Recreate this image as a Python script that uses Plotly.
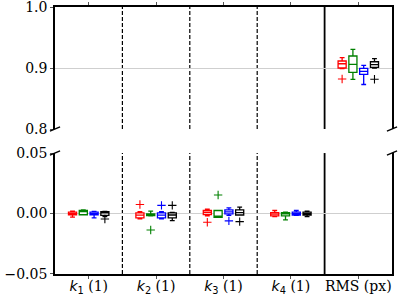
import plotly.graph_objects as go

# ---------------- data ----------------
categories = [1, 2, 3, 4, 5]
tick_labels = [
    "<span style='font-family:DejaVu Sans'><i>k</i><sub>1</sub></span> (1)",
    "<span style='font-family:DejaVu Sans'><i>k</i><sub>2</sub></span> (1)",
    "<span style='font-family:DejaVu Sans'><i>k</i><sub>3</sub></span> (1)",
    "<span style='font-family:DejaVu Sans'><i>k</i><sub>4</sub></span> (1)",
    "RMS (px)",
]
series_names = ["red", "green", "blue", "black"]
series_colors = ["#ff0000", "#008000", "#0000ff", "#000000"]
series_offsets = [-0.24, -0.08, 0.08, 0.24]

# bottom panel (k1..k4): per series lists of stats
k_lowerfence = {
    "red":   [-0.0030, -0.0045, -0.0020, -0.0025],
    "green": [-0.0010, -0.0020, -0.0031, -0.0053],
    "blue":  [-0.0036, -0.0045, -0.0015, -0.0015],
    "black": [-0.0025, -0.0058, -0.0012, -0.0025],
}
k_q1 = {
    "red":   [-0.0011, -0.0036, -0.0008, -0.0019],
    "green": [-0.0010, -0.0017, -0.0031, -0.0019],
    "blue":  [-0.0011, -0.0036, -0.0003, -0.0012],
    "black": [-0.0015, -0.0036, -0.0012, -0.0012],
}
k_median = {
    "red":   [0.0000, -0.0014, 0.0010, -0.0005],
    "green": [0.0022, -0.0010, -0.0028, -0.0003],
    "blue":  [0.0000, -0.0014, 0.0014, 0.0000],
    "black": [0.0005, -0.0012, 0.0008, 0.0000],
}
k_q3 = {
    "red":   [0.0011, 0.0006, 0.0025, 0.0008],
    "green": [0.0025, -0.0003, 0.0025, 0.0008],
    "blue":  [0.0011, 0.0006, 0.0031, 0.0012],
    "black": [0.0015, 0.0005, 0.0031, 0.0012],
}
k_upperfence = {
    "red":   [0.0020, 0.0015, 0.0036, 0.0025],
    "green": [0.0030, 0.0020, 0.0025, 0.0012],
    "blue":  [0.0018, 0.0015, 0.0047, 0.0025],
    "black": [0.0018, 0.0010, 0.0053, 0.0019],
}
# outliers in bottom panel: (category index, value)
k_outliers = {
    "red":   [(2, 0.0075), (3, -0.0072)],
    "green": [(2, -0.0136), (3, 0.0153)],
    "blue":  [(2, 0.0067), (3, -0.0061)],
    "black": [(1, -0.0045), (2, 0.0067), (3, -0.0067)],
}

# top panel (RMS)
rms_lowerfence = {"red": 0.8990, "green": 0.8815, "blue": 0.8730, "black": 0.9000}
rms_q1 = {"red": 0.9000, "green": 0.8930, "blue": 0.8897, "black": 0.9011}
rms_median = {"red": 0.9070, "green": 0.9060, "blue": 0.8946, "black": 0.9054}
rms_q3 = {"red": 0.9115, "green": 0.9197, "blue": 0.8995, "black": 0.9103}
rms_upperfence = {"red": 0.9169, "green": 0.9307, "blue": 0.9044, "black": 0.9153}
rms_outliers = {"red": [0.882], "green": [], "blue": [], "black": [0.8815]}

top_ticks = [0.8, 0.9, 1.0]
top_ticktext = ["0.8", "0.9", "1.0"]
bot_ticks = [-0.05, 0.0, 0.05]
bot_ticktext = ["\u22120.05", "0.00", "0.05"]

# ---------------- figure ----------------
fig = go.Figure()
BOXW = 0.12
for name, col, off in zip(series_names, series_colors, series_offsets):
    # bottom panel boxes
    fig.add_trace(go.Box(
        x=[c + off for c in categories[:4]],
        q1=k_q1[name], median=k_median[name], q3=k_q3[name],
        lowerfence=k_lowerfence[name], upperfence=k_upperfence[name],
        orientation="v", width=BOXW, boxpoints=False, whiskerwidth=0.6,
        line=dict(color=col, width=1.3), fillcolor="white",
        xaxis="x", yaxis="y", showlegend=False, hoverinfo="skip",
    ))
    ox = [categories[i - 1] + off for i, v in k_outliers[name]]
    oy = [v for i, v in k_outliers[name]]
    fig.add_trace(go.Scatter(
        x=ox, y=oy, mode="markers",
        marker=dict(symbol="cross-thin", size=6, line=dict(color=col, width=1.1), color=col),
        xaxis="x", yaxis="y", showlegend=False, hoverinfo="skip",
    ))
    # top panel boxes
    fig.add_trace(go.Box(
        x=[categories[4] + off],
        q1=[rms_q1[name]], median=[rms_median[name]], q3=[rms_q3[name]],
        lowerfence=[rms_lowerfence[name]], upperfence=[rms_upperfence[name]],
        orientation="v", width=BOXW, boxpoints=False, whiskerwidth=0.6,
        line=dict(color=col, width=1.3), fillcolor="white",
        xaxis="x2", yaxis="y2", showlegend=False, hoverinfo="skip",
    ))
    fig.add_trace(go.Scatter(
        x=[categories[4] + off] * len(rms_outliers[name]), y=rms_outliers[name],
        mode="markers",
        marker=dict(symbol="cross-thin", size=6, line=dict(color=col, width=1.1), color=col),
        xaxis="x2", yaxis="y2", showlegend=False, hoverinfo="skip",
    ))

TOP_DOM = [0.543, 1.0]
BOT_DOM = [0.0, 0.453]
tickfont = dict(family="DejaVu Serif", size=14, color="black")
common_y = dict(showline=True, linecolor="black", linewidth=1.6, mirror=True,
                ticks="outside", ticklen=3, tickcolor="#555", tickwidth=1,
                showgrid=True, gridcolor="#cfcfcf", gridwidth=1, zeroline=False,
                tickfont=tickfont, automargin=False, ticklabeloverflow="allow")
fig.update_layout(
    width=398, height=298,
    margin=dict(l=55, r=6, t=7, b=24, autoexpand=False),
    paper_bgcolor="white", plot_bgcolor="white",
    boxmode="overlay",
    xaxis=dict(domain=[0, 1], range=[0.5, 5.5], anchor="y",
               showline=True, linecolor="black", linewidth=1.6,
               ticks="outside", ticklen=3, tickcolor="#555",
               tickvals=categories, ticktext=tick_labels, tickfont=tickfont,
               showgrid=False, zeroline=False, automargin=False,
               ticklabeloverflow="allow", ticklabelstandoff=-5),
    xaxis2=dict(domain=[0, 1], range=[0.5, 5.5], anchor="y2", side="top",
                showline=True, linecolor="black", linewidth=1.6,
                ticks="outside", ticklen=3, tickcolor="#555",
                tickvals=categories, showticklabels=False,
                showgrid=False, zeroline=False, automargin=False),
    yaxis=dict(domain=BOT_DOM, range=[-0.05, 0.05], anchor="x",
               tickvals=bot_ticks, ticktext=bot_ticktext, **common_y),
    yaxis2=dict(domain=TOP_DOM, range=[0.8, 1.0], anchor="x2",
                tickvals=top_ticks, ticktext=top_ticktext, **common_y),
)

# group separators (dashed between k's, solid before RMS)
shapes = []
for i in range(1, len(categories)):
    dash = "solid" if i == len(categories) - 1 else "4px,2px"
    w = 1.8 if i == len(categories) - 1 else 1.2
    for xr, yr in (("x", "y domain"), ("x2", "y2 domain")):
        shapes.append(dict(type="line", xref=xr, yref=yr, x0=i + 0.5, x1=i + 0.5,
                           y0=0, y1=1, line=dict(color="black", width=w, dash=dash),
                           layer="below"))
# broken-axis diagonal marks
dx, dy = 0.015, 0.008
for xc in (0, 1):
    for yc in (TOP_DOM[0], BOT_DOM[1]):
        shapes.append(dict(type="line", xref="paper", yref="paper",
                           x0=xc - dx, x1=xc + dx, y0=yc - dy, y1=yc + dy,
                           line=dict(color="black", width=1.3)))
fig.update_layout(shapes=shapes)

fig.write_html(
    "out.html",
    config={"displayModeBar": False},
    post_script="document.body.style.margin='0px';document.body.style.overflow='hidden';",
)
